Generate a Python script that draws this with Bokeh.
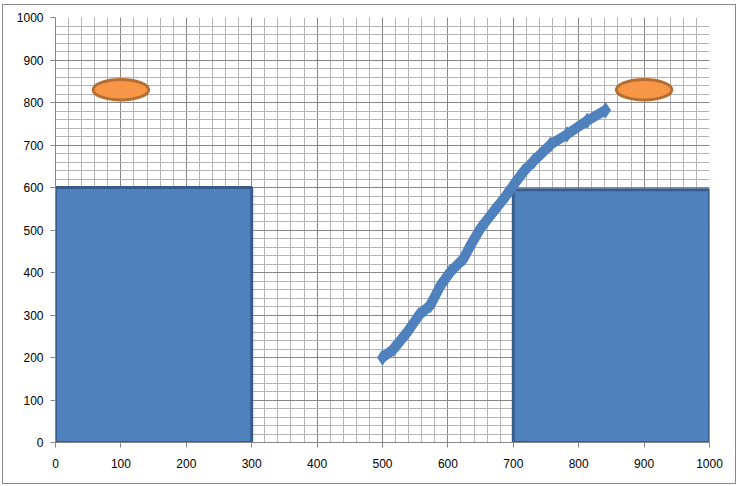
from bokeh.plotting import figure
from bokeh.models import Range1d, SingleIntervalTicker
from bokeh.embed import file_html
from bokeh.resources import INLINE

# Blue rectangles (data units)
rect_left = [0, 700]
rect_right = [300, 1000]
rect_bottom = [0, 0]
rect_top = [600, 595]

# Orange ellipses
ell_x = [100, 900]
ell_y = [830, 830]
ell_w = [85, 85]
ell_h = [48, 48]

# Blue line of diamond markers
line_x = [500, 517, 538, 556, 573, 589, 604, 624, 635, 650, 670, 690, 701, 716, 731, 757, 782, 813, 841]
line_y = [200, 220, 260, 300, 323, 370, 402, 433, 465, 504, 544, 583, 607, 638, 662, 701, 725, 757, 782]

ticks = [0, 100, 200, 300, 400, 500, 600, 700, 800, 900, 1000]

p = figure(width=734, height=480, output_backend="svg", toolbar_location=None,
           x_range=Range1d(0, 1000), y_range=Range1d(0, 1000),
           min_border_left=52, min_border_top=12, min_border_right=28, min_border_bottom=43)
p.styles = {"border": "1px solid #8a8a8a", "box-sizing": "border-box",
            "margin-left": "2px", "margin-top": "4px"}
p.outline_line_color = None
p.background_fill_color = "white"
p.border_fill_color = "white"

for ax, g in ((p.xaxis, p.xgrid), (p.yaxis, p.ygrid)):
    t = SingleIntervalTicker(interval=100, num_minor_ticks=5)
    ax.ticker = t
    g.ticker = t
    g.grid_line_color = "#878787"
    g.grid_line_width = 1
    g.minor_grid_line_color = "#b4b4b4"
    g.minor_grid_line_width = 1
    ax.axis_line_color = "#878787"
    ax.major_tick_line_color = "#878787"
    ax.major_tick_in = 0
    ax.major_tick_out = 5
    ax.minor_tick_line_color = None
    ax.major_label_text_font = "Liberation Sans"
    ax.major_label_text_font_size = "12px"
    ax.major_label_text_color = "black"

p.xaxis.major_label_standoff = 11
p.yaxis.major_label_standoff = 7

p.quad(left=rect_left, right=rect_right, bottom=rect_bottom, top=rect_top,
       fill_color="#4F81BD", line_color="#385D8A", line_width=3)

p.line(line_x, line_y, line_color="#4F81BD", line_width=10)
p.scatter(line_x, line_y, marker="diamond", size=15, fill_color="#4F81BD", line_color="#4F81BD")

p.ellipse(x=ell_x, y=ell_y, width=ell_w, height=ell_h,
          fill_color="#F79646", line_color="#B66D31", line_width=3)

open("out.html", "w").write(file_html(p, INLINE))
